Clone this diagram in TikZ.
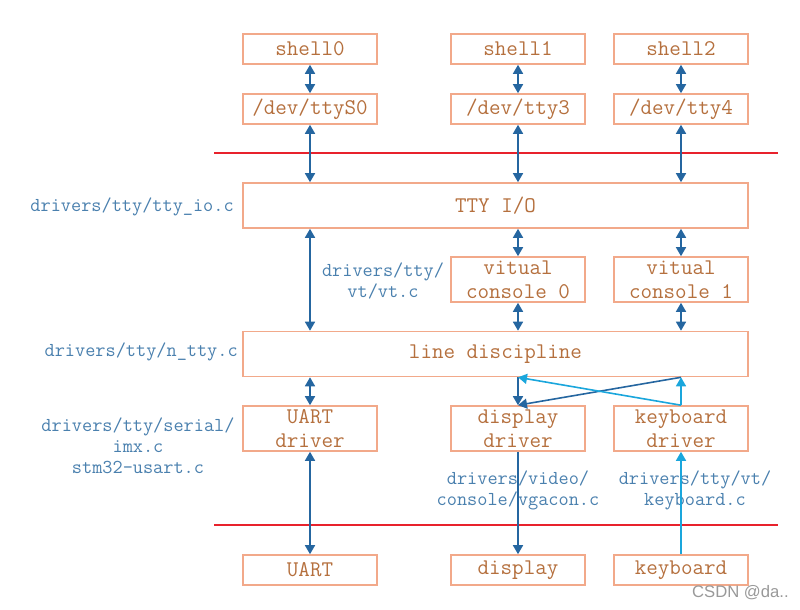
\documentclass[tikz,border=0pt]{standalone}
\usepackage{fontspec}
\newfontfamily\wmfont{Liberation Sans}
\usetikzlibrary{arrows.meta}
\definecolor{boxline}{HTML}{F2A98A}
\definecolor{boxtext}{HTML}{B5703E}
\definecolor{labtext}{HTML}{4A80AE}
\definecolor{darkarr}{HTML}{2566A0}
\definecolor{lightarr}{HTML}{1AA6DC}
\definecolor{redline}{HTML}{E8222C}
\tikzset{
  blk/.style={draw=boxline, line width=1.2pt, text=boxtext, font=\ttfamily\fontsize{16.8}{18}\selectfont, align=center, inner sep=0pt, minimum height=22.5pt},
  sbox/.style={blk, minimum width=100.5pt},
  tbox/.style={blk, minimum width=100.5pt, minimum height=33.75pt},
  wbox/.style={blk, minimum width=378.75pt, minimum height=33.75pt},
  lab/.style={text=labtext, font=\ttfamily\fontsize{14.8}{15.75}\selectfont, align=center, inner sep=0pt},
  darr/.style={draw=darkarr, line width=1.2pt, <->},
  dar/.style={draw=darkarr, line width=1.2pt, ->},
  lar/.style={draw=lightarr, line width=1.2pt, ->},
  sep/.style={draw=redline, line width=1.1pt}
}
\begin{document}
\begin{tikzpicture}[x=0.75pt,y=-0.75pt, >={Triangle[length=6.75pt,width=7.5pt]}]
\useasboundingbox (0,0) rectangle (800,610);
% top row
\node[sbox] (sh0) at (310,49) {shell0};
\node[sbox] (sh1) at (518,49) {shell1};
\node[sbox] (sh2) at (681,49) {shell2};
\node[sbox] (d0) at (310,109) {/dev/ttyS0};
\node[sbox] (d3) at (518,109) {/dev/tty3};
\node[sbox] (d4) at (681,109) {/dev/tty4};
\coordinate (r1a) at (214,153); \coordinate (r1b) at (778,153);
\draw[sep] (r1a) -- (r1b);
\node[wbox] (tty) at (495.5,205.5) {TTY I/O};
\node[tbox] (vc0) at (518,279.5) {vitual\\console 0};
\node[tbox] (vc1) at (681,279.5) {vitual\\console 1};
\node[wbox] (ld) at (495.5,354) {line discipline};
\node[tbox] (ud) at (310,428.5) {UART\\driver};
\node[tbox] (dd) at (518,428.5) {display\\driver};
\node[tbox] (kd) at (681,428.5) {keyboard\\driver};
\coordinate (r2a) at (214,525); \coordinate (r2b) at (778,525);
\draw[sep] (r2a) -- (r2b);
\node[sbox] (uart) at (310,570) {UART};
\node[sbox] (disp) at (518,570) {display};
\node[sbox] (kbd) at (681,570) {keyboard};
% labels
\node[lab, anchor=east] (l1) at (234,207) {drivers/tty/tty\_io.c};
\node[lab] (l2) at (383,281) {drivers/tty/\\vt/vt.c};
\node[lab, anchor=east] (l3) at (238,352) {drivers/tty/n\_tty.c};
\node[lab] (l4) at (138,446) {drivers/tty/serial/\\imx.c\\stm32-usart.c};
\node[lab] (l5) at (518,490) {drivers/video/\\console/vgacon.c};
\node[lab] (l6) at (695,490) {drivers/tty/vt/\\keyboard.c};
\node[text=gray!80, font=\wmfont\fontsize{12.5}{14}\selectfont, anchor=east, inner sep=0pt] (wm) at (789,593) {CSDN @da..};
% connectors
\draw[darr] (sh0) -- (d0);
\draw[darr] (sh1) -- (d3);
\draw[darr] (sh2) -- (d4);
\draw[darr] (d0) -- (d0 |- tty.north);
\draw[darr] (d3) -- (d3 |- tty.north);
\draw[darr] (d4) -- (d4 |- tty.north);
\draw[darr] (d0 |- tty.south) -- (d0 |- ld.north);
\draw[darr] (vc0 |- tty.south) -- (vc0);
\draw[darr] (vc1 |- tty.south) -- (vc1);
\draw[darr] (vc0) -- (vc0 |- ld.north);
\draw[darr] (vc1) -- (vc1 |- ld.north);
\draw[darr] (ud |- ld.south) -- (ud);
\draw[darr] (ud) -- (uart);
\draw[dar] (dd |- ld.south) -- (dd);
\draw[dar] (kd |- ld.south) -- (dd.north);
\draw[lar] (kd) -- (kd |- ld.south);
\draw[lar] (kd.north) -- (dd |- ld.south);
\draw[dar] (dd) -- (disp);
\draw[lar] (kbd) -- (kd);
\end{tikzpicture}
\end{document}
